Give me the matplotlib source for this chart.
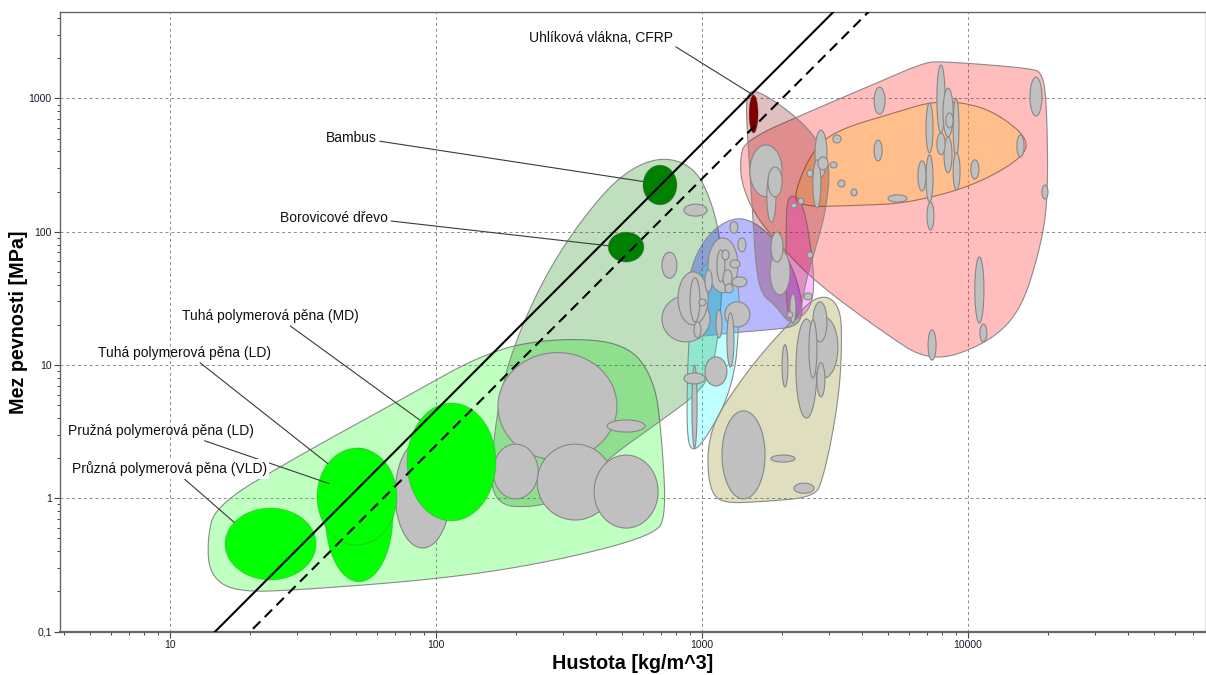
import numpy as np
import matplotlib
matplotlib.use("Agg")
import matplotlib.pyplot as plt
from matplotlib.colors import to_rgba
from matplotlib.ticker import FixedLocator, FixedFormatter, LogLocator, NullFormatter

plt.rcParams['font.family'] = ['Liberation Sans', 'DejaVu Sans']

# --- family envelopes: outline points (density kg/m^3, strength MPa) ---
FOAM_RHO = [14.8, 30.8, 73.3, 160, 292, 522, 665, 707, 733, 665, 292, 113, 30.8, 17.5, 14.1, 13.8]
FOAM_SIG = [0.89, 2.11, 5.46, 13.0, 16.0, 14.6, 7.74, 2.74, 0.75, 0.53, 0.344, 0.252, 0.205, 0.198, 0.266, 0.487]

NATURAL_RHO = [160, 164, 179, 207, 261, 348, 492, 695, 941, 1100, 1189, 1189, 1119, 1009, 665, 451, 333, 246]
NATURAL_SIG = [0.89, 2.74, 7.71, 18.3, 49.1, 119, 267, 371, 306, 159, 73.1, 30.8, 10.9, 6.50, 3.55, 2.04, 1.15, 0.85]

POLYMER_RHO = [885, 871, 942, 1092, 1330, 1581, 1881, 2142, 2335, 2399, 2239, 1803, 1274, 982]
POLYMER_SIG = [16.8, 36.5, 66.8, 103, 129, 118, 86.7, 59.3, 36.5, 23.8, 19.3, 18.4, 17.4, 16.3]

ELASTOMER_RHO = [1026, 1274, 1389, 1365, 1330, 1219, 1025, 925, 879, 879, 902, 958]
ELASTOMER_SIG = [59.4, 61.5, 36.6, 15.4, 9.20, 5.02, 2.75, 2.23, 2.75, 7.74, 21.8, 43.4]

CERAMIC_RHO = [2335, 2660, 3029, 3302, 3360, 3302, 3105, 2849, 2660, 1652, 1189, 1072, 1044, 1100, 1241, 1652]
CERAMIC_SIG = [25.1, 31.9, 32.5, 25.9, 16.8, 7.08, 3.09, 1.42, 1.02, 0.94, 0.92, 1.15, 2.11, 3.55, 5.46, 11.9]

METAL_RHO = [1452, 2612, 4545, 6772, 7849, 17100, 19140, 19820, 19990, 18650, 15680, 11580, 7194, 4667, 2612, 1914, 1581, 1413, 1389]
METAL_SIG = [487, 817, 1307, 1842, 1905, 1687, 1549, 817, 173, 73.1, 24.6, 14.2, 10.4, 18.3, 43.4, 83.8, 134, 224, 346]

ALLOY_RHO = [2275, 2239, 2612, 3218, 5410, 7194, 9572, 12850, 17100, 15680, 10180, 5902, 4027]
ALLOY_SIG = [153, 206, 410, 580, 791, 940, 940, 778, 487, 345, 216, 164, 158]

GLASS_RHO = [2089, 2239, 2399, 2547, 2637, 2612, 2438, 2142, 2070, 2070]
GLASS_SIG = [179, 188, 158, 86.7, 47.3, 30.7, 23.8, 21.1, 30.8, 103]

COMPOSITE_RHO = [1489, 1626, 2053, 2547, 2926, 3029, 2899, 2660, 2438, 2335, 2142, 1881, 1681, 1597, 1556, 1503, 1463]
COMPOSITE_SIG = [1117, 1135, 847, 579, 378, 267, 134, 73.1, 39.9, 23.8, 20.0, 28.3, 33.6, 51.8, 123, 347, 822]

# --- material bubbles: (rho_lo, rho_hi, sigma_lo, sigma_hi) ---
FOAM_BUBBLES = [
    (171, 479, 1.94, 12.4), (164, 242, 0.99, 2.55), (240, 463, 0.687, 2.55),
    (393, 684, 0.598, 2.11), (440, 611, 3.14, 3.87), (70.2, 113, 0.424, 2.74),
]
NATURAL_BUBBLES = [(855, 1045, 131, 161), (707, 805, 44.8, 70.2)]
POLYMER_BUBBLES = [
    (1274, 1365, 97.5, 119), (1365, 1463, 70.6, 89.9), (1054, 1365, 34.8, 89.9),
    (1138, 1219, 42.1, 73.1), (1189, 1264, 61.5, 73.1), (1200, 1297, 38.6, 51.8),
    (1274, 1389, 53.6, 61.5), (1297, 1476, 38.6, 45.8), (1219, 1309, 34.8, 40.6),
    (1026, 1092, 35.4, 51.8), (813, 1054, 20.0, 50.0), (902, 982, 21.1, 45.1),
    (707, 1072, 14.9, 33.0), (933, 991, 16.0, 21.1), (974, 1035, 27.8, 31.3),
    (1129, 1189, 16.0, 25.9), (1219, 1514, 19.3, 29.8), (1241, 1319, 9.68, 24.6),
    (917, 958, 2.38, 9.98), (855, 1026, 7.21, 8.71), (1026, 1241, 6.97, 11.5),
]
CERAMIC_BUBBLES = [
    (1189, 1726, 0.99, 4.53), (1816, 2239, 1.87, 2.11), (2218, 2637, 1.09, 1.30),
    (2000, 2104, 6.85, 14.2), (2255, 2704, 4.00, 22.1), (2547, 3243, 8.00, 22.9),
    (2524, 2704, 8.0, 21.8), (2612, 2951, 14.9, 29.8), (2704, 2898, 5.77, 10.4),
]
METAL_BUBBLES = [
    (4437, 4877, 762, 1216), (7640, 8204, 551, 1779), (8058, 8794, 514, 1194),
    (8794, 9250, 363, 1005), (8260, 8794, 600, 779), (7640, 8204, 378, 551),
    (8129, 8710, 277, 514), (8794, 9336, 206, 391), (6954, 7388, 391, 925),
    (6954, 7388, 167, 378), (7015, 7450, 103, 167), (6486, 6954, 202, 340),
    (4437, 4754, 340, 487), (15270, 16250, 364, 532), (17100, 18970, 738, 1444),
    (18970, 19990, 176, 224), (10250, 10990, 249, 346), (10610, 11480, 20.7, 64.7),
    (11090, 11780, 14.9, 20.3), (7079, 7586, 10.9, 18.3), (5002, 5902, 167, 189),
    (3104, 3333, 463, 532), (3243, 3450, 217, 244), (3630, 3828, 186, 209),
    (3029, 3221, 301, 334), (2484, 2612, 258, 291), (2660, 2951, 258, 578),
    (2612, 2799, 151, 346), (2729, 2979, 291, 364), (1514, 2000, 183, 448),
    (1771, 2000, 183, 306), (1754, 1897, 118, 281), (1817, 2017, 59.2, 99.5),
    (1803, 2143, 33.6, 73.1), (2161, 2275, 151, 164), (2296, 2415, 161, 179),
    (2484, 2612, 63.5, 70.6), (2415, 2594, 30.8, 34.8), (2142, 2254, 20.7, 34.2),
    (2089, 2198, 22.6, 25.1),
]

# --- highlighted materials ---
HL_NAMES = ["Uhlíková vlákna, CFRP", "Bambus", "Borovicové dřevo",
            "Tuhá polymerová pěna (MD)", "Pružná polymerová pěna (LD)",
            "Tuhá polymerová pěna (LD)", "Průzná polymerová pěna (VLD)"]
HL_RHO_LO = [1503, 600, 444, 77.8, 38.3, 35.7, 16.1]
HL_RHO_HI = [1626, 805, 605, 168, 68.9, 71.3, 35.4]
HL_SIG_LO = [551, 159, 59.2, 0.677, 0.236, 0.446, 0.244]
HL_SIG_HI = [1062, 316, 99.4, 5.19, 2.38, 2.38, 0.845]
HL_COLORS = ['#800000', '#008000', '#008000', '#00ff00', '#00ff00', '#00ff00', '#00ff00']
LABEL_RHO = [778, 60.0, 66.1, 11.1, 4.14, 5.36, 4.29]
LABEL_SIG = [2838, 505, 127, 23.3, 3.20, 12.3, 1.66]
LABEL_HA = ['right', 'right', 'right', 'left', 'left', 'left', 'left']
LABEL_REL = [(1, 0), (1, 0.3), (1, 0.3), (0.59, 0), (0.69, 0), (0.57, 0), (0.56, 0)]
LEADER_ANGLE = [95, 170, 175, 135, 152, 137, 143]

# performance index sigma^(1/2)/rho guide lines
GUIDE_M = [0.0214, 0.0158]
GUIDE_STYLE = ['-', (0, (5, 3))]

X_TICKS = [10, 100, 1000, 10000]
X_LABELS = ['10', '100', '1000', '10000']
Y_TICKS = [0.1, 1, 10, 100, 1000]
Y_LABELS = ['0,1', '1', '10', '100', '1000']


def chaikin(x, y, n=3):
    for _ in range(n):
        x2, y2 = np.roll(x, -1), np.roll(y, -1)
        x = np.column_stack([0.75 * x + 0.25 * x2, 0.25 * x + 0.75 * x2]).ravel()
        y = np.column_stack([0.75 * y + 0.25 * y2, 0.25 * y + 0.75 * y2]).ravel()
    return x, y


def envelope(ax, rho, sig, color, alpha, edge='#8a8a8a'):
    lx, ly = chaikin(np.log10(rho), np.log10(sig))
    ax.fill(10 ** lx, 10 ** ly, fc=to_rgba(color, alpha), ec=edge, lw=0.8, zorder=1)


def ellipse_xy(r_lo, r_hi, s_lo, s_hi, t):
    cx = (np.log10(r_lo) + np.log10(r_hi)) / 2
    ax_ = (np.log10(r_hi) - np.log10(r_lo)) / 2
    cy = (np.log10(s_lo) + np.log10(s_hi)) / 2
    ay = (np.log10(s_hi) - np.log10(s_lo)) / 2
    return 10 ** (cx + ax_ * np.cos(t)), 10 ** (cy + ay * np.sin(t))


def bubble(ax, b, fc, ec, lw, z):
    x, y = ellipse_xy(*b, np.linspace(0, 2 * np.pi, 120))
    ax.fill(x, y, fc=fc, ec=ec, lw=lw, zorder=z)


fig = plt.figure(figsize=(12.06, 6.75), dpi=100)
ax = fig.add_axes([0.0498, 0.0637, 0.9502, 0.9185])
ax.set_xscale('log')
ax.set_yscale('log')
ax.set_xlim(3.86, 78500)
ax.set_ylim(0.0993, 4450)

envelope(ax, FOAM_RHO, FOAM_SIG, '#00ff00', 0.25)
envelope(ax, NATURAL_RHO, NATURAL_SIG, '#008000', 0.25)
envelope(ax, POLYMER_RHO, POLYMER_SIG, '#0000ff', 0.28)
envelope(ax, ELASTOMER_RHO, ELASTOMER_SIG, '#00ffff', 0.25)
envelope(ax, CERAMIC_RHO, CERAMIC_SIG, '#808000', 0.25)
envelope(ax, METAL_RHO, METAL_SIG, '#ff0000', 0.26)
envelope(ax, ALLOY_RHO, ALLOY_SIG, '#ffc043', 0.4, edge='#a07055')
envelope(ax, GLASS_RHO, GLASS_SIG, '#ff00ff', 0.25)
envelope(ax, COMPOSITE_RHO, COMPOSITE_SIG, '#800000', 0.25)

gray = FOAM_BUBBLES + NATURAL_BUBBLES + POLYMER_BUBBLES + CERAMIC_BUBBLES + METAL_BUBBLES
gray.sort(key=lambda b: -np.log10(b[1] / b[0]) * np.log10(b[3] / b[2]))
for b in gray:
    bubble(ax, b, '#c0c0c0', '#878787', 0.8, 2)

for i in range(len(HL_NAMES)):
    b = (HL_RHO_LO[i], HL_RHO_HI[i], HL_SIG_LO[i], HL_SIG_HI[i])
    bubble(ax, b, HL_COLORS[i], to_rgba('#606060', 0.35), 0.6, 3)

rho_line = np.array([3.0, 100000.0])
for m, ls in zip(GUIDE_M, GUIDE_STYLE):
    ax.plot(rho_line, (m * rho_line) ** 2, color='black', lw=1.5, ls=ls, zorder=4)

for i in range(len(HL_NAMES)):
    t = np.radians(LEADER_ANGLE[i])
    tx, ty = ellipse_xy(HL_RHO_LO[i], HL_RHO_HI[i], HL_SIG_LO[i], HL_SIG_HI[i], t)
    box = dict(fc='white', ec='none', pad=1.5) if 'VLD' in HL_NAMES[i] else None
    ax.annotate(HL_NAMES[i], xy=(tx, ty), xytext=(LABEL_RHO[i], LABEL_SIG[i]),
                ha=LABEL_HA[i], va='center', fontsize=10, color='#111111', bbox=box,
                arrowprops=dict(arrowstyle='-', color='#3a3a3a', lw=0.8,
                                relpos=LABEL_REL[i], shrinkA=0, shrinkB=0),
                zorder=6)

ax.set_axisbelow(True)
ax.grid(True, which='major', ls=(0, (3, 3)), color='#8a8a8a', lw=0.7)

ax.xaxis.set_major_locator(FixedLocator(X_TICKS))
ax.xaxis.set_major_formatter(FixedFormatter(X_LABELS))
ax.xaxis.set_minor_locator(LogLocator(base=10, subs=np.arange(2, 10)))
ax.xaxis.set_minor_formatter(NullFormatter())
ax.yaxis.set_major_locator(FixedLocator(Y_TICKS))
ax.yaxis.set_major_formatter(FixedFormatter(Y_LABELS))
ax.yaxis.set_minor_locator(LogLocator(base=10, subs=np.arange(2, 10)))
ax.yaxis.set_minor_formatter(NullFormatter())
ax.tick_params(which='major', direction='out', length=4, width=0.8, color='#444444',
               labelsize=7.5, labelcolor='#1a1a2a', pad=2)
ax.tick_params(which='minor', direction='out', length=2.5, width=0.7, color='#444444')

for s in ax.spines.values():
    s.set_color('#666666')
    s.set_linewidth(1.0)
ax.spines['bottom'].set_linewidth(1.6)

ax.set_xlabel('Hustota [kg/m^3]', fontsize=14.2, fontweight='bold', va='center')
ax.set_ylabel('Mez pevnosti [MPa]', fontsize=14.2, fontweight='bold', va='center')
ax.xaxis.set_label_coords(0.5, -0.051)
ax.yaxis.set_label_coords(-0.0366, 0.5)

fig.savefig('out.png', dpi=100)
